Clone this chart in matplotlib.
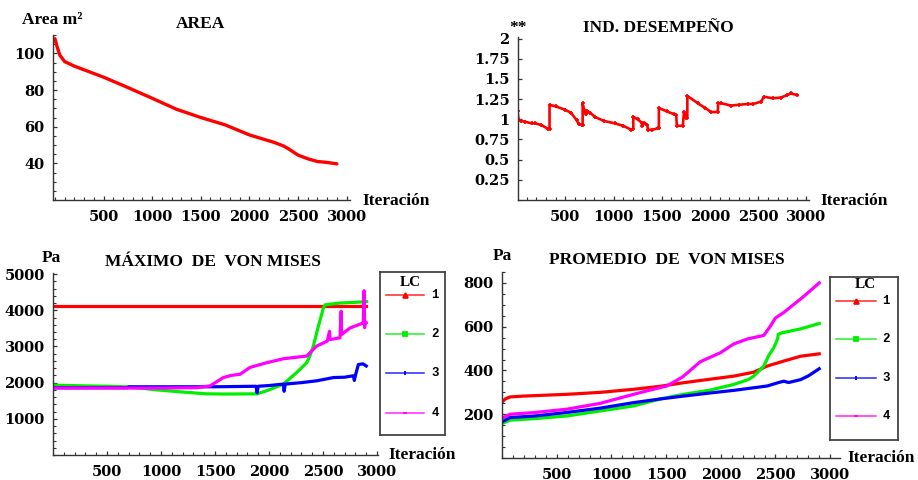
import matplotlib
matplotlib.use("Agg")
import matplotlib.pyplot as plt
from matplotlib.ticker import MultipleLocator

# ---------------------------------------------------------------
# data (iteration, value)
# ---------------------------------------------------------------
area_it = [0, 20, 50, 100, 200, 300, 500, 700, 1000, 1250, 1500, 1750,
           2000, 2250, 2350, 2400, 2500, 2600, 2700, 2800, 2900]
area_v = [108, 104, 99, 95.5, 93, 91, 87, 82.5, 75.5, 69.5, 65, 61,
          55.5, 51.5, 49.5, 48, 44.5, 42.5, 41, 40.5, 39.7]

ind_it = [0, 5, 15, 40, 83, 150, 186, 250, 323, 337, 337, 400, 496, 560,
          617, 640, 670, 680, 680, 700, 715, 730, 760, 806, 900, 1012,
          1100, 1185, 1205, 1205, 1250, 1290, 1300, 1320, 1350, 1357,
          1400, 1460, 1470, 1470, 1550, 1632, 1650, 1656, 1718, 1730,
          1750, 1765, 1765, 1873, 1950, 2011, 2080, 2085, 2115, 2218,
          2300, 2390, 2450, 2528, 2562, 2650, 2734, 2800, 2838, 2906]
ind_v = [1.15, 1.10, 1.00, 0.98, 0.97, 0.95, 0.95, 0.93, 0.88, 0.88, 1.18,
         1.16, 1.12, 1.08, 0.99, 0.94, 0.93, 0.93, 1.20, 1.10, 1.06, 1.10,
         1.08, 1.03, 0.98, 0.95, 0.92, 0.87, 0.88, 1.03, 1.00, 0.96, 0.92,
         0.96, 0.93, 0.87, 0.87, 0.89, 0.89, 1.14, 1.10, 1.06, 1.05, 0.92,
         0.92, 1.09, 1.02, 1.02, 1.29, 1.20, 1.14, 1.09, 1.09, 1.20, 1.20,
         1.17, 1.18, 1.19, 1.19, 1.22, 1.28, 1.26, 1.27, 1.30, 1.32, 1.30]

# maximo de von mises, per load case
max1_it = [0, 500, 1000, 1500, 2000, 2500, 2900]
max1_v = [4120, 4120, 4120, 4120, 4120, 4120, 4120]
max2_it = [0, 300, 500, 713, 960, 1200, 1423, 1600, 1887, 1978, 2050, 2133,
           2256, 2349, 2380, 2410, 2457, 2503, 2519, 2657, 2800, 2904]
max2_v = [1930, 1910, 1900, 1880, 1800, 1740, 1690, 1685, 1690, 1775, 1860,
          1960, 2280, 2550, 2750, 3010, 3560, 4060, 4150, 4200, 4220, 4240]
max3_it = [0, 690, 700, 1516, 1880, 1890, 1900, 2000, 2133, 2140, 2150,
           2300, 2441, 2596, 2700, 2781, 2790, 2800, 2827, 2870, 2900]
max3_v = [1860, 1860, 1885, 1886, 1900, 1720, 1900, 1920, 1960, 1760, 1960,
          2000, 2050, 2140, 2150, 2190, 2060, 2200, 2500, 2520, 2460]
max4_it = [0, 500, 1000, 1330, 1454, 1577, 1650, 1731, 1824, 1978, 2133,
           2349, 2441, 2540, 2560, 2565, 2657, 2668, 2672, 2750, 2873,
           2880, 2885, 2890, 2900]
max4_v = [1850, 1850, 1850, 1860, 1910, 2140, 2200, 2230, 2420, 2550, 2660,
          2735, 3010, 3150, 3420, 3190, 3240, 3970, 3330, 3510, 3650, 4540,
          3520, 3650, 3660]

# promedio de von mises, per load case
avg1_it = [0, 30, 73, 200, 592, 900, 1203, 1450, 1660, 1900, 2118, 2300,
           2424, 2576, 2729, 2900]
avg1_v = [255, 270, 279, 283, 291, 300, 314, 328, 344, 360, 374, 392,
          420, 443, 465, 476]
avg2_it = [0, 73, 300, 592, 900, 1203, 1450, 1660, 1900, 2118, 2250, 2301,
           2393, 2440, 2484, 2520, 2525, 2560, 2729, 2800, 2900]
avg2_v = [158, 173, 180, 192, 215, 238, 270, 291, 310, 336, 358, 374,
          420, 470, 503, 545, 565, 572, 590, 600, 615]
avg3_it = [0, 73, 300, 592, 900, 1203, 1450, 1660, 1900, 2118, 2424, 2530,
           2576, 2620, 2729, 2800, 2900]
avg3_v = [165, 185, 192, 208, 228, 253, 270, 283, 297, 309, 329, 345,
          351, 345, 358, 375, 408]
avg4_it = [0, 73, 300, 592, 900, 1203, 1350, 1507, 1650, 1813, 2000, 2118,
           2250, 2393, 2450, 2500, 2576, 2750, 2900]
avg4_v = [182, 200, 208, 223, 250, 291, 310, 329, 370, 440, 482, 521,
          545, 560, 600, 640, 665, 735, 800]

lc_labels = ["1", "2", "3", "4"]
lc_colors = ["#ff0000", "#00ee00", "#0000ff", "#ff00ff"]
lc_markers = ["^", "s", "|", "_"]

# ---------------------------------------------------------------
W, H = 918, 480
fig = plt.figure(figsize=(W / 100, H / 100), dpi=100)


def box(l, t, r, b):
    return [l / W, 1 - b / H, (r - l) / W, (b - t) / H]


SERIF = "Liberation Serif"
TICKFONT = dict(family="DejaVu Serif", weight="bold", size=10.5)
AXC = "#333333"


def style_axes(ax, xlim, ylim, yticks, ylabels, yminor, xminor=100):
    ax.set_xlim(*xlim)
    ax.set_ylim(*ylim)
    for s in ("top", "right"):
        ax.spines[s].set_visible(False)
    for s in ("left", "bottom"):
        ax.spines[s].set_color(AXC)
        ax.spines[s].set_linewidth(1.0)
    ax.set_xticks([500, 1000, 1500, 2000, 2500, 3000])
    ax.set_xticklabels(["500", "1000", "1500", "2000", "2500", "3000"])
    ax.set_yticks(yticks)
    ax.set_yticklabels(ylabels)
    ax.xaxis.set_minor_locator(MultipleLocator(xminor))
    ax.yaxis.set_minor_locator(MultipleLocator(yminor))
    ax.tick_params(which="major", direction="in", length=3, width=0.9,
                   color=AXC, pad=6)
    ax.tick_params(which="major", axis="x", pad=7)
    ax.tick_params(which="minor", direction="in", length=2, width=0.8,
                   color=AXC)
    for lab in ax.get_xticklabels() + ax.get_yticklabels():
        lab.set_fontproperties(TICKFONT)
    ax.set_facecolor("none")


def ftext(x, y, s, ha="left", size=12.5, **kw):
    fig.text(x / W, 1 - y / H, s, ha=ha, va="baseline", family=SERIF,
             weight="bold", size=size, **kw)


# --- AREA ---
ax1 = fig.add_axes(box(53, 35, 350, 200))
ax1.plot(area_it, area_v, color="#ff0000", lw=2.4, solid_capstyle="round")
style_axes(ax1, (-20, 3035), (20, 110), [40, 60, 80, 100],
           ["40", "60", "80", "100"], 5)
ftext(22, 23.5, "Area m²")
ftext(200, 27.5, "AREA", ha="center")
ftext(362, 205, "Iteración")

# --- IND. DESEMPENO ---
ax2 = fig.add_axes(box(518, 37, 809, 200))
ax2.plot(ind_it, ind_v, color="#ff0000", lw=1.9, marker="+", ms=3, mew=1.2)
style_axes(ax2, (10, 3026), (0, 2.02),
           [0.25, 0.5, 0.75, 1, 1.25, 1.5, 1.75, 2],
           ["0.25", "0.5", "0.75", "1", "1.25", "1.5", "1.75", "2"], 0.25)
ftext(509, 32, "**")
ftext(658, 31.5, "IND. DESEMPEÑO", ha="center")
ftext(820, 205, "Iteración")

# --- MAXIMO DE VON MISES ---
ax3 = fig.add_axes(box(53, 273, 378, 455))
for it, v, c in zip([max1_it, max2_it, max3_it, max4_it],
                    [max1_v, max2_v, max3_v, max4_v], lc_colors):
    ax3.plot(it, v, color=c, lw=2.3)
style_axes(ax3, (0, 3009), (0, 5030), [1000, 2000, 3000, 4000, 5000],
           ["1000", "2000", "3000", "4000", "5000"], 200)
ftext(42, 262.5, "Pa")
ftext(213, 266, "MÁXIMO  DE  VON MISES", ha="center")
ftext(388, 459, "Iteración")

# --- PROMEDIO DE VON MISES ---
ax4 = fig.add_axes(box(502, 272, 840, 458))
for it, v, c in zip([avg1_it, avg2_it, avg3_it, avg4_it],
                    [avg1_v, avg2_v, avg3_v, avg4_v], lc_colors):
    ax4.plot(it, v, color=c, lw=2.3)
style_axes(ax4, (0, 3090), (0, 850), [200, 400, 600, 800],
           ["200", "400", "600", "800"], 50)
ftext(493, 260, "Pa")
ftext(667, 264, "PROMEDIO  DE  VON MISES", ha="center")
ftext(847, 462.5, "Iteración")


# --- hand-made legends (pixel layout) ---
def lc_legend(l, t, r, b, title_xy, rows, x0, x1, xlab):
    lax = fig.add_axes(box(l, t, r, b))
    lax.set_xlim(l, r)
    lax.set_ylim(b, t)
    lax.set_xticks([])
    lax.set_yticks([])
    for s in lax.spines.values():
        s.set_color("#444444")
        s.set_linewidth(1.3)
    lax.text(title_xy[0], title_xy[1], "LC", ha="center", va="center",
             family=SERIF, weight="bold", size=11)
    for y, lab, c, m in zip(rows, lc_labels, lc_colors, lc_markers):
        lax.plot([x0, x1], [y, y], color=c, lw=1.1, alpha=0.85)
        lax.plot([(x0 + x1) / 2], [y], color=c, marker=m, ms=3.5, mew=1.3)
        lax.text(xlab, y, lab, ha="center", va="center",
                 family="Liberation Mono", weight="bold", size=9)


lc_legend(380, 272, 445, 435, (410, 282), [295, 334, 373, 413], 386, 424, 435)
lc_legend(830, 277, 898, 440, (865, 285), [301, 339, 378, 416], 836, 876, 886)

fig.savefig("out.png", dpi=100)
